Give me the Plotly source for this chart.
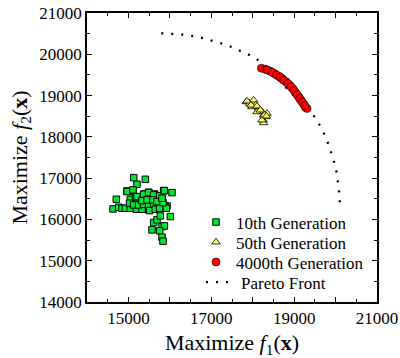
import plotly.graph_objects as go

# Pareto front
pareto_x = [15794, 16068, 16318, 16575, 16816, 17058, 17291, 17525, 17750, 17967, 18176,
            19512, 19633, 19738, 19834, 19915, 19979, 20035, 20067, 20092, 20108]
pareto_y = [20509, 20500, 20476, 20436, 20388, 20315, 20251, 20162, 20065, 19961, 19832,
            18470, 18253, 18043, 17809, 17576, 17342, 17100, 16851, 16593, 16335]

# 10th generation
gen10_x = [15127, 15408, 15207, 14966, 15110, 14708, 14628, 14764, 14845, 14925, 15046, 15191,
           15328, 15489, 15046, 15167, 15288, 15384, 15489, 15626, 15754, 15851, 16052, 15811,
           15931, 16012, 15569, 15609, 15690, 15770, 15811, 15867, 15754, 15811, 15835, 15529,
           15690, 15770, 15891, 14966, 15110, 15207, 15366, 15487, 15608, 15753, 15866, 15028,
           15125, 15246, 15366, 15487, 15608, 15728, 15849, 15511, 15649, 15753, 15914, 15328,
           15448, 15593, 15690, 15835, 15811]
gen10_y = [17012, 16972, 16851, 16690, 16690, 16488, 16254, 16295, 16271, 16271, 16271, 16246,
           16246, 16230, 16488, 16528, 16472, 16617, 16657, 16617, 16577, 16698, 16649, 16504,
           16327, 16069, 15747, 15924, 15989, 16085, 15827, 15843, 15723, 15570, 15473, 16391,
           16391, 16327, 16295, 16674, 16715, 16553, 16611, 16650, 16594, 16570, 16698, 16393,
           16352, 16352, 16369, 16352, 16352, 16376, 16352, 16214, 16248, 16272, 16272, 16456,
           16473, 16473, 16432, 16408, 16514]

# 50th generation
gen50_x = [17846, 17926, 18022, 18070, 18143, 18183, 18224, 18263, 18249, 18304, 18345, 18104,
           17983, 18263, 18224, 17862, 17959, 18104, 18183, 18280, 18328]
gen50_y = [18849, 18810, 18890, 18769, 18689, 18648, 18607, 18527, 18407, 18486, 18568, 18607,
           18728, 18341, 18407, 18866, 18769, 18745, 18648, 18527, 18503]

# 4000th generation
gen4000_x = [18209, 18305, 18410, 18522, 18627, 18708, 18804, 18893, 18965, 19037, 19110, 19166,
             19231, 19279, 19311, 18345, 18466, 18571, 18667, 18748, 18852, 18925, 18997, 19070,
             19134, 19199, 19255]
gen4000_y = [19663, 19638, 19598, 19534, 19469, 19413, 19332, 19252, 19171, 19066, 18970, 18889,
             18792, 18712, 18688, 19622, 19566, 19501, 19445, 19373, 19292, 19211, 19122, 19017,
             18930, 18841, 18752]

x_tickvals = [14000, 15000, 16000, 17000, 18000, 19000, 20000, 21000]
x_ticktext = ["", "15000", "", "17000", "", "19000", "", "21000"]
y_tickvals = [14000, 15000, 16000, 17000, 18000, 19000, 20000, 21000]
y_ticktext = ["14000", "15000", "16000", "17000", "18000", "19000", "20000", "21000"]

W, H = 400, 358
ML, MR, MT, MB = 87, 23, 13, 56
PW, PH = W - ML - MR, H - MT - MB


def lx(px):
    return (px - ML) / PW


def ly(py):
    return (H - MB - py) / PH


fig = go.Figure()
fig.add_trace(go.Scatter(x=pareto_x, y=pareto_y, mode="lines", name="Pareto Front",
                         line=dict(color="black", width=2.3, dash="2px,8px"), legend="legend4"))
fig.add_trace(go.Scatter(x=gen10_x, y=gen10_y, mode="markers", name="10th Generation",
                         marker=dict(symbol="square", size=6.5, color="#00e633",
                                     line=dict(color="black", width=1)), legend="legend"))
fig.add_trace(go.Scatter(x=gen50_x, y=gen50_y, mode="markers", name="50th Generation",
                         marker=dict(symbol="triangle-up", size=7.5, color="#ffff66",
                                     line=dict(color="black", width=0.8)), legend="legend2"))
fig.add_trace(go.Scatter(x=gen4000_x, y=gen4000_y, mode="markers", name="4000th Generation",
                         marker=dict(symbol="circle", size=8, color="#ff0000",
                                     line=dict(color="black", width=0.6)), legend="legend3"))

axis_common = dict(
    showgrid=False, zeroline=False, showline=True, linecolor="black", linewidth=1.5,
    mirror="ticks", ticks="inside", ticklen=5, tickwidth=1.2, tickcolor="black",
    minor=dict(dtick=500, ticks="inside", ticklen=3, tickwidth=1, tickcolor="black"),
    tickfont=dict(family="Liberation Serif", size=17, color="black"),
    automargin=False,
)

legend_font = dict(family="Liberation Serif", size=17, color="black")


def leg(px, py):
    return dict(x=lx(px), y=ly(py), xanchor="left", yanchor="middle",
                bgcolor="rgba(0,0,0,0)", font=legend_font, itemwidth=30,
                borderwidth=0)


fig.update_layout(
    width=W, height=H,
    margin=dict(l=ML, r=MR, t=MT, b=MB),
    paper_bgcolor="white", plot_bgcolor="white",
    font=dict(family="Liberation Serif", color="black"),
    xaxis=dict(range=[14000, 21000], tickmode="array", tickvals=x_tickvals, ticktext=x_ticktext,
               title=dict(text="Maximize <i>f</i><sub>1</sub>(<b>x</b>)",
                          font=dict(family="Liberation Serif", size=22), standoff=8),
               **axis_common),
    yaxis=dict(range=[14000, 21000], tickmode="array", tickvals=y_tickvals, ticktext=y_ticktext,
               title=dict(text="Maximize <i>f</i><sub>2</sub>(<b>x</b>)",
                          font=dict(family="Liberation Serif", size=22), standoff=6),
               **axis_common),
    showlegend=True,
    legend=leg(196, 222.5),
    legend2=leg(196, 242.5),
    legend3=leg(196, 262.5),
    legend4=leg(201, 282.5),
)

fig.write_html("out.html", config={"displayModeBar": False},
               post_script="document.body.style.margin='0px';")
